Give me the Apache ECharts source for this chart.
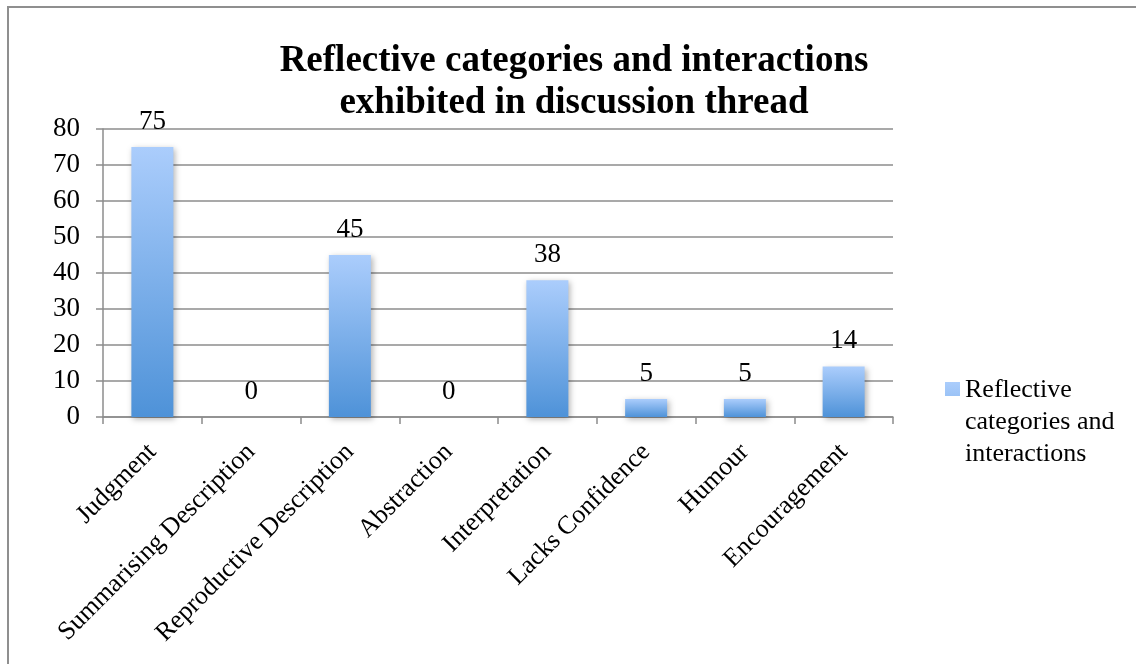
<!DOCTYPE html>
<html>
<head>
<meta charset="utf-8">
<script src="https://cdn.jsdelivr.net/npm/echarts@6/dist/echarts.min.js"></script>
<style>html,body{margin:0;padding:0;background:#fff}#c{width:1136px;height:664px}</style>
</head>
<body>
<div id="c"></div>
<script>
const categories = ["Judgment","Summarising Description","Reproductive Description","Abstraction","Interpretation","Lacks Confidence","Humour","Encouragement"];
const values = [75, 0, 45, 0, 38, 5, 5, 14];
const seriesName = "Reflective categories and interactions";
const yTicks = {min: 0, max: 80, interval: 10};
const titleText = "Reflective categories and interactions\nexhibited in discussion thread";

const serif = "'Liberation Serif', 'DejaVu Serif', serif";
const gray = '#8c8c8c';
const chart = echarts.init(document.getElementById('c'), null, {renderer: 'canvas'});
chart.setOption({
  animation: false,
  backgroundColor: '#fff',
  graphic: [{
    type: 'rect', shape: {x: 8, y: 7, width: 1200, height: 700},
    style: {fill: 'none', stroke: '#8f8f8f', lineWidth: 2}, silent: true, z: -1
  }],
  title: {
    text: titleText, left: 569, top: 35, textAlign: 'center',
    textStyle: {fontFamily: serif, fontSize: 37, fontWeight: 'bold', color: '#000', lineHeight: 42}
  },
  legend: {
    left: 940, top: 369, orient: 'vertical',
    icon: 'path://M0,0h15v14h-15z M0,80h0.01v0.01h-0.01z',
    itemWidth: 15, itemHeight: 80, itemGap: 5,
    formatter: function(){ return 'Reflective\ncategories and\ninteractions'; },
    textStyle: {fontFamily: serif, fontSize: 26, color: '#000', lineHeight: 32}
  },
  grid: {left: 103, right: 243, top: 129, bottom: 247, containLabel: false},
  xAxis: {
    type: 'category', data: categories,
    axisLine: {lineStyle: {color: gray, width: 1.5}},
    axisTick: {show: true, length: 7, alignWithLabel: false, lineStyle: {color: gray, width: 1.5}},
    axisLabel: {rotate: 45, margin: 31, fontFamily: serif, fontSize: 26, color: '#000', interval: 0}
  },
  yAxis: {
    type: 'value', min: yTicks.min, max: yTicks.max, interval: yTicks.interval,
    axisLine: {show: true, lineStyle: {color: gray, width: 1.5}},
    axisTick: {show: true, length: 7, lineStyle: {color: gray, width: 1.5}},
    axisLabel: {margin: 23, fontFamily: serif, fontSize: 27, color: '#000'},
    splitLine: {lineStyle: {color: gray, width: 1.5}}
  },
  series: [{
    name: seriesName, type: 'bar', data: values, barWidth: 42,
    itemStyle: {
      color: new echarts.graphic.LinearGradient(0, 0, 0, 1, [
        {offset: 0, color: '#abcdfc'}, {offset: 1, color: '#4e92d8'}
      ]),
      shadowBlur: 6, shadowColor: 'rgba(0,0,0,0.3)', shadowOffsetX: 2, shadowOffsetY: 2
    },
    label: {show: true, position: 'top', distance: 12, fontFamily: serif, fontSize: 27, color: '#000'}
  }]
});
</script>
</body>
</html>
